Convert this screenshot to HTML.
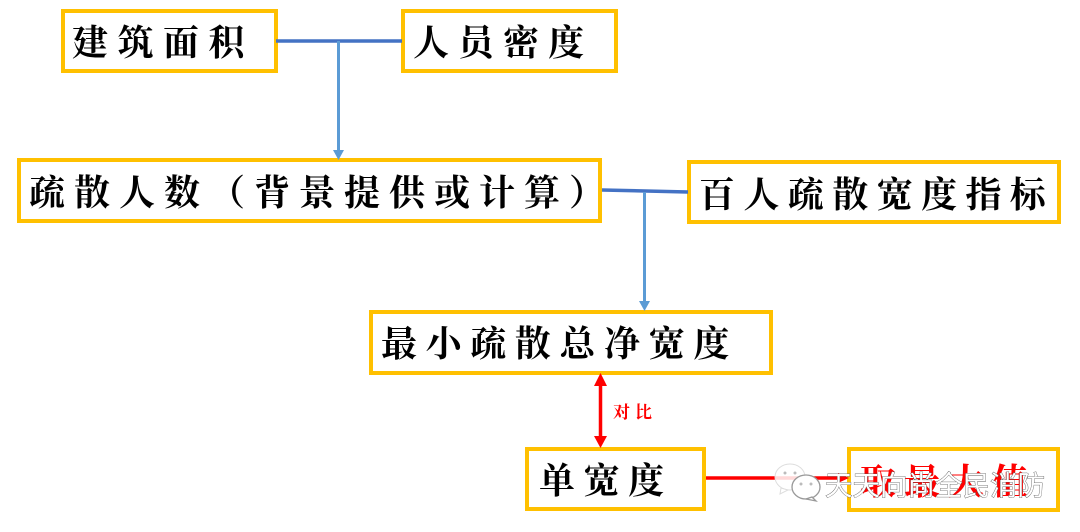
<!DOCTYPE html>
<html><head><meta charset="utf-8"><style>
html,body{margin:0;padding:0;background:#fff;width:1080px;height:532px;overflow:hidden}
svg{display:block}
.t{font-family:"Liberation Serif","Noto Serif CJK SC",serif;font-weight:700;font-size:36px;fill:#000}
rect{fill:#fff;stroke:#FFC000;stroke-width:4}
</style></head><body>
<svg width="1080" height="532" viewBox="0 0 1080 532" xmlns="http://www.w3.org/2000/svg">
<rect x="63" y="11" width="213" height="60"/>
<rect x="403" y="11" width="213" height="60"/>
<rect x="19" y="160" width="581" height="61"/>
<rect x="689" y="162" width="370" height="60"/>
<rect x="371" y="312" width="400" height="61"/>
<rect x="527" y="449" width="177" height="60"/>
<rect x="849" y="449" width="209" height="61"/>
<line x1="276" y1="41" x2="402" y2="41" stroke="#4472C4" stroke-width="3.500"/>
<line x1="338.500" y1="41" x2="338.500" y2="152" stroke="#5B9BD5" stroke-width="3"/>
<polygon points="333,150 344,150 338.500,160" fill="#5B9BD5"/>
<line x1="602" y1="190" x2="688" y2="192" stroke="#4472C4" stroke-width="3.500"/>
<line x1="644.500" y1="192" x2="644.500" y2="304" stroke="#5B9BD5" stroke-width="3"/>
<polygon points="639,301 650,301 644.500,311" fill="#5B9BD5"/>
<line x1="600.500" y1="380" x2="600.500" y2="442" stroke="#FF0000" stroke-width="3.500"/>
<polygon points="594,386 607,386 600.500,373" fill="#FF0000"/>
<polygon points="594,436 607,436 600.500,448" fill="#FF0000"/>
<line x1="706" y1="478" x2="840" y2="478" stroke="#FF0000" stroke-width="3.500"/>
<polygon points="838,473 838,483 849,478" fill="#FF0000"/>
<text class="t" x="72" y="55" letter-spacing="9.500">建筑面积</text>
<text class="t" x="413" y="55" letter-spacing="9">人员密度</text>
<text class="t" x="29" y="205" letter-spacing="9">疏散人数（背景提供或计算）</text>
<text class="t" x="699" y="207" letter-spacing="8.400">百人疏散宽度指标</text>
<text class="t" x="381" y="356" letter-spacing="8.600">最小疏散总净宽度</text>
<text class="t" x="539" y="493" letter-spacing="8.500">单宽度</text>
<text class="t" x="860" y="494" letter-spacing="8" style="fill:#FF0000">取最大值</text>
<text x="613" y="418" font-family="'Liberation Serif','Noto Serif CJK SC',serif" font-weight="700" font-size="17" fill="#FF0000" letter-spacing="5">对比</text>
<g fill="#fff" fill-opacity="0.850" stroke="#ddd" stroke-width="1">
<ellipse cx="790" cy="477" rx="15" ry="13"/>
<path d="M781 488 L780 494 L788 490Z"/>
</g>
<g fill="#fff" stroke="#999" stroke-width="1.300">
<ellipse cx="806" cy="487" rx="14" ry="12"/>
<path d="M812 497 L816 501 L806 499Z"/>
</g>
<g fill="#bbb"><circle cx="785" cy="473" r="1.500"/><circle cx="795" cy="473" r="1.500"/><circle cx="801" cy="484" r="1.500"/><circle cx="811" cy="484" r="1.500"/></g>
<text x="825" y="495" font-family="'Liberation Sans','Noto Sans CJK SC',sans-serif" font-size="27.500" fill="#fff" stroke="#555" stroke-width="0.800" style="paint-order:stroke">天天向尚全民消防</text>
</svg>
</body></html>
